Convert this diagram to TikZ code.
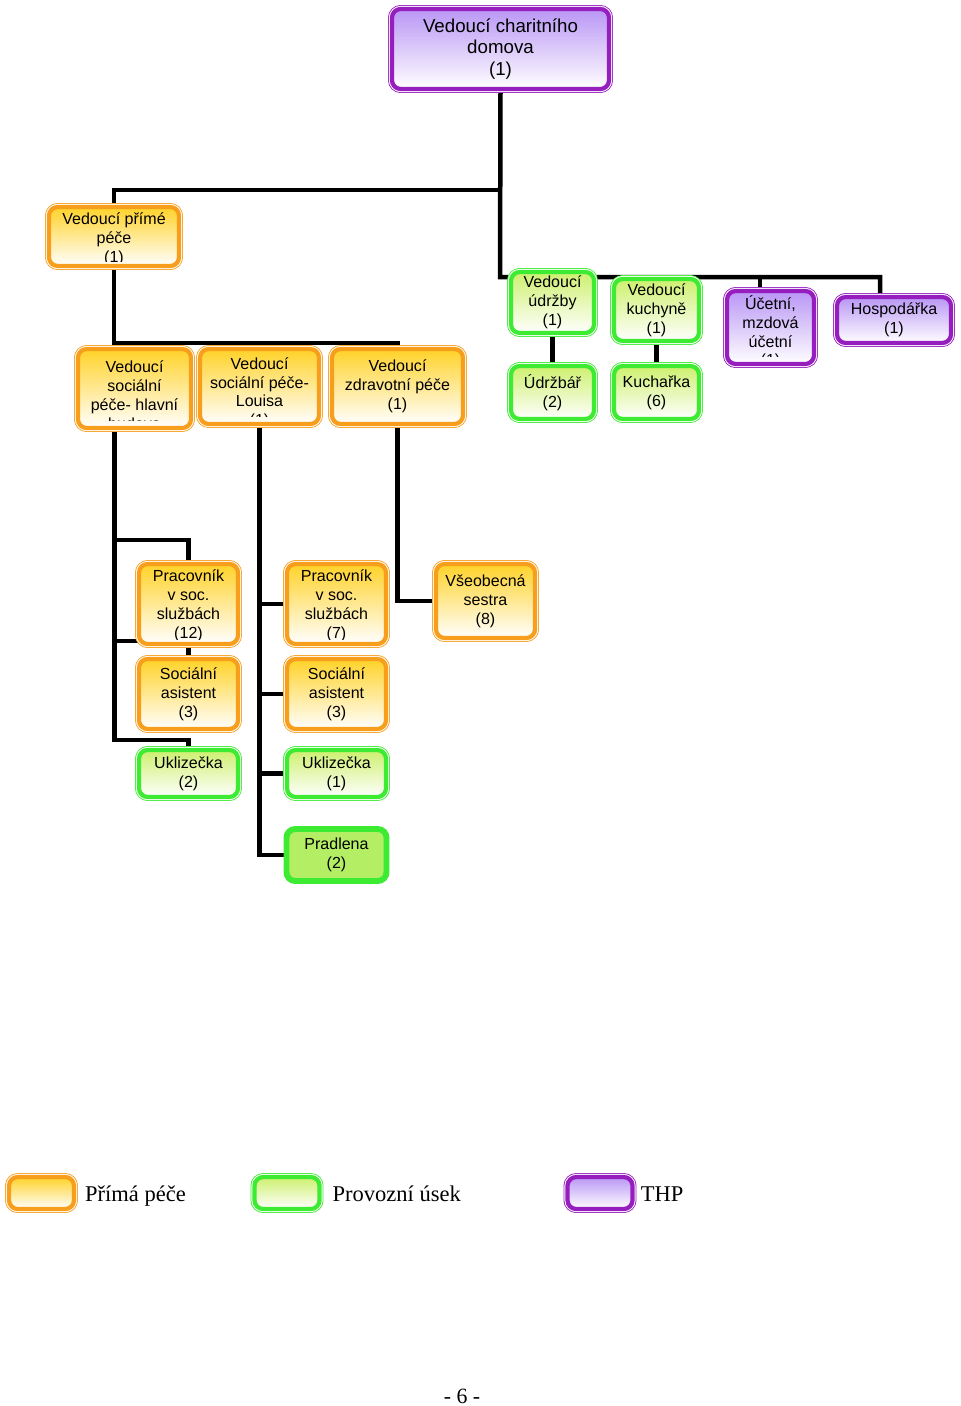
\documentclass[tikz,border=0pt]{standalone}
\usepackage{fontspec}
\setmainfont{Liberation Serif}
\newfontfamily\boxfont{Liberation Sans}
\usetikzlibrary{positioning,backgrounds}
\definecolor{careline}{RGB}{247,158,28}
\definecolor{caretop}{RGB}{255,210,40}
\definecolor{serviceline}{RGB}{60,235,50}
\definecolor{servicetop}{RGB}{205,240,110}
\definecolor{thpline}{RGB}{150,30,190}
\definecolor{thptop}{RGB}{185,150,245}
\definecolor{laundryfill}{RGB}{180,238,100}
\newcommand{\boxtext}{\boxfont\fontsize{11.4}{13.4}\selectfont}
\newcommand{\headtext}{\boxfont\fontsize{13.3}{15.6}\selectfont}
\newcommand{\keytext}{\fontsize{16}{19}\selectfont}
\tikzset{
	conn/.style={line width=3.2pt, line cap=rect},% black connecting lines
	orgbox/.style={rectangle, rounded corners=2.2mm, draw=#1line, line width=3pt, top color=#1top, bottom color=white,
		preaction={draw=#1line, line width=5.6pt}, preaction={draw=white, line width=4.4pt},
		align=center, inner sep=1pt, font=\boxtext},
	care/.style={orgbox=care},
	service/.style={orgbox=service},
	thp/.style={orgbox=thp},
	laundry/.style={rectangle, rounded corners=2.2mm, draw=serviceline, line width=4.2pt, fill=laundryfill, align=center, inner sep=1pt, font=\boxtext},
	cut inset/.store in=\cutinset, cut inset=3.5pt,
	cut/.style n args={3}{path picture={% text that does not fit is cut off
		\clip ([yshift=\cutinset]path picture bounding box.south west) rectangle (path picture bounding box.north east);
		\node[align=center, inner sep=0pt, font=\boxtext] (#1) at ([yshift=#2]path picture bounding box.center) {#3};}},
	keylabel/.style={inner sep=0pt, font=\keytext, text height=14.5pt, text depth=3pt}
}

\begin{document}
\begin{tikzpicture}[x=0.025cm, y=-0.025cm]
	\useasboundingbox (0,0) rectangle (960,1406);
	% top
	\node[thp, font=\headtext, minimum width=5.425cm, minimum height=2cm] (boss) at (500.5,49) {Vedoucí charitního\\domova\\(1)};
	% direct care
	\node[care, minimum width=3.25cm, minimum height=1.475cm, cut={prime text}{-0.07cm}{Vedoucí přímé\\péče\\(1)}] (prime) at (114,236.5) {};
	\node[care, minimum width=2.825cm, minimum height=1.975cm, cut inset=5pt, cut={hlavni text}{-0.44cm}{Vedoucí\\sociální\\péče- hlavní\\budova\\(1)}] (hlavni) at (134.5,388.5) {};
	\node[care, minimum width=2.975cm, minimum height=1.875cm, cut inset=5pt, cut={louisa text}{-0.17cm}{Vedoucí\\sociální péče-\\Louisa\\(1)}] (louisa) at (259.5,386.5) {};
	\node[care, minimum width=3.275cm, minimum height=1.875cm] (zdrav) at (397.5,386.5) {Vedoucí\\zdravotní péče\\(1)};
	% operations and THP
	\node[service, minimum width=2.075cm, minimum height=1.525cm] (udrzby) at (552.5,302.5) {Vedoucí\\údržby\\(1)};
	\node[service, minimum width=2.075cm, minimum height=1.325cm] (udrzbar) at (552.5,392.5) {Údržbář\\(2)};
	\node[service, minimum width=2.125cm, minimum height=1.55cm] (kuchyne) at (656.5,310) {Vedoucí\\kuchyně\\(1)};
	\node[service, minimum width=2.125cm, minimum height=1.325cm] (kucharka) at (656.5,392.5) {Kuchařka\\(6)};
	\node[thp, minimum width=2.175cm, minimum height=1.825cm, cut inset=5pt, cut={ucetni text}{-0.12cm}{Účetní,\\mzdová\\účetní\\(1)}] (ucetni) at (770.5,327.5) {};
	\node[thp, minimum width=2.85cm, minimum height=1.15cm] (hospod) at (894,320) {Hospodářka\\(1)};
	% staff
	\node[care, minimum width=2.475cm, minimum height=2cm, cut={prac12 text}{-0.04cm}{Pracovník\\v soc.\\službách\\(12)}] (prac12) at (188.5,604) {};
	\node[care, minimum width=2.475cm, minimum height=1.75cm] (soc12) at (188.5,694) {Sociální\\asistent\\(3)};
	\node[service, minimum width=2.475cm, minimum height=1.175cm] (ukl2) at (188.5,773.5) {Uklizečka\\(2)};
	\node[care, minimum width=2.475cm, minimum height=2cm, cut={prac7 text}{-0.04cm}{Pracovník\\v soc.\\službách\\(7)}] (prac7) at (336.5,604) {};
	\node[care, minimum width=2.475cm, minimum height=1.75cm] (soc7) at (336.5,694) {Sociální\\asistent\\(3)};
	\node[service, minimum width=2.475cm, minimum height=1.175cm] (ukl1) at (336.5,773.5) {Uklizečka\\(1)};
	\node[laundry, minimum width=2.5cm, minimum height=1.3cm] (pradlena) at (336.5,855) {Pradlena\\(2)};
	\node[care, minimum width=2.475cm, minimum height=1.85cm] (sestra) at (485.5,601) {Všeobecná\\sestra\\(8)};
	% legend
	\node[care, minimum width=1.625cm, minimum height=0.8cm] (key care) at (41.5,1193) {};
	\node[service, minimum width=1.625cm, minimum height=0.8cm] (key service) at (287,1193) {};
	\node[thp, minimum width=1.625cm, minimum height=0.8cm] (key thp) at (600,1193) {};
	\node[keylabel, right=0.22cm of key care] (key care label) {Přímá péče};
	\node[keylabel, right=0.27cm of key service] (key service label) {Provozní úsek};
	\node[keylabel, right=0.15cm of key thp] (key thp label) {THP};
	\node[font=\fontsize{15.5}{18}\selectfont] (page) at (462,1396) {- 6 -};
	% connectors
	\begin{scope}[on background layer]
		\coordinate (hub) at (500,277);
		\coordinate (split) at (500,190);
		\draw[conn] (boss.south) -- (hub) -| ([xshift=-0.35cm]hospod.north);
		\draw[conn] (hub) -| (udrzby.north);
		\draw[conn] (hub) -| (kuchyne.north);
		\draw[conn] (hub) -| ([xshift=-0.26cm]ucetni.north);
		\draw[conn] (split) -| (prime.north);
		\draw[conn] (prime.south) |- ([yshift=1mm]zdrav.north) -- (zdrav.north);
		\draw[conn] ([yshift=1mm]louisa.north) -- (louisa.north);
		\draw[conn] (udrzby) -- (udrzbar);
		\draw[conn] (kuchyne) -- (kucharka);
		\coordinate (stem) at ([xshift=-0.5cm]hlavni.south);
		\draw[conn] (stem) |- ([yshift=0.55cm]prac12.north) -- (prac12.north);
		\draw[conn] (stem) |- ([yshift=-0.925cm]prac12.west);
		\draw[conn] (stem) |- ([yshift=0.2cm]ukl2.north) -- (ukl2.north);
		\draw[conn] (prac12) -- (soc12);
		\draw[conn] (louisa.south) |- (prac7.west);
		\draw[conn] (louisa.south) |- (soc7.west);
		\draw[conn] (louisa.south) |- (ukl1.west);
		\draw[conn] (louisa.south) |- (pradlena.west);
		\draw[conn] (zdrav.south) |- (sestra.west);
	\end{scope}
\end{tikzpicture}
\end{document}
